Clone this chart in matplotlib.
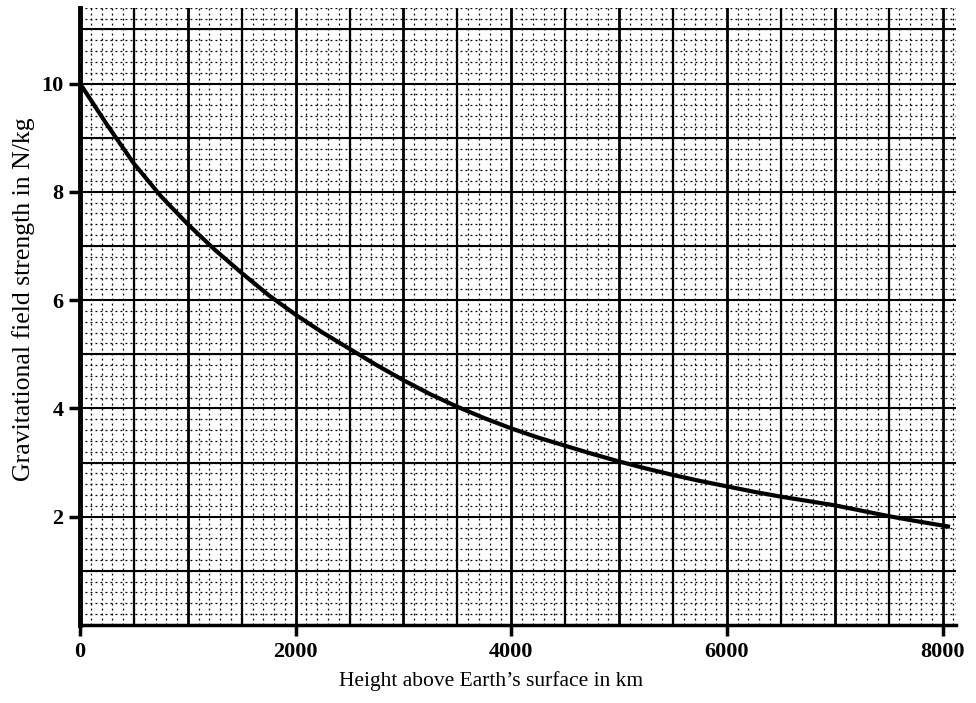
import numpy as np
import matplotlib
matplotlib.use("Agg")
import matplotlib.pyplot as plt
from matplotlib.ticker import MultipleLocator

# values
height_km = [0, 250, 500, 750, 1000, 1250, 1500, 1750, 2000, 2250, 2500,
             2750, 3000, 3250, 3500, 3750, 4000, 4250, 4500, 4750, 5000,
             5250, 5500, 5750, 6000, 6250, 6500, 6750, 7000, 7250, 7500,
             7750, 8050]
field_strength = [10.0, 9.24, 8.52, 7.92, 7.40, 6.93, 6.50, 6.09, 5.73, 5.40,
                  5.10, 4.80, 4.52, 4.26, 4.03, 3.82, 3.63, 3.46, 3.31, 3.16,
                  3.02, 2.89, 2.77, 2.66, 2.56, 2.46, 2.37, 2.29, 2.21, 2.11,
                  2.01, 1.92, 1.82]

x_ticks = [0, 2000, 4000, 6000, 8000]
y_ticks = [2, 4, 6, 8, 10]

plt.rcParams["font.family"] = ["Liberation Serif", "DejaVu Serif"]

fig = plt.figure(figsize=(9.76, 7.03), dpi=100)
ax = fig.add_axes([0.082, 0.111, 0.897, 0.878])

ax.set_xlim(0, 8120)
ax.set_ylim(0, 11.4)

# graph paper: dotted fine grid, solid coarse grid
ax.xaxis.set_minor_locator(MultipleLocator(100))
ax.yaxis.set_minor_locator(MultipleLocator(0.2))
ax.grid(which="minor", color="black", linestyle=(0, (1.5, 2.5)), linewidth=0.9)
for xv in np.arange(500, 8120, 500):
    ax.axvline(xv, color="black", linewidth=1.6 if xv % 1000 else 2.0, zorder=1)
for yv in np.arange(1, 12, 1):
    ax.axhline(yv, color="black", linewidth=1.5, zorder=1)

# the curve
ax.plot(height_km, field_strength, color="black", linewidth=3, zorder=3,
        solid_joinstyle="round")

ax.set_xticks(x_ticks)
ax.set_yticks(y_ticks)
ax.set_xticklabels([str(v) for v in x_ticks], fontsize=16, fontweight="bold")
ax.set_yticklabels([str(v) for v in y_ticks], fontsize=16, fontweight="bold")
ax.tick_params(which="major", length=8, width=2.5, pad=4, color="black")
ax.tick_params(which="minor", length=0)

for side in ["top", "right"]:
    ax.spines[side].set_visible(False)
ax.spines["left"].set_linewidth(3.5)
ax.spines["bottom"].set_linewidth(2.5)

ax.set_xlabel("Height above Earth\u2019s surface in km", fontsize=15.5)
ax.xaxis.set_label_coords(0.469, -0.075)
ax.set_ylabel("Gravitational field strength in N/kg", fontsize=18.5)
ax.yaxis.set_label_coords(-0.052, 0.527)

fig.savefig("out.png", dpi=100)
